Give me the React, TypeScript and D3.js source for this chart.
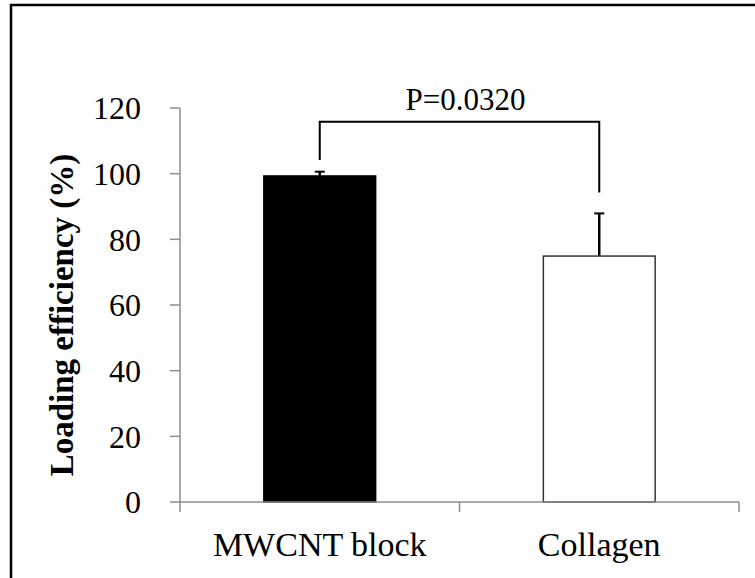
import React from 'react';
import * as d3 from 'd3';

// chart data
const categories = ['MWCNT block', 'Collagen'];
const means = [99.3, 74.9];
const errors = [1.3, 13.0];
const fills = ['#000000', '#ffffff'];
const yTicks = [0, 20, 40, 60, 80, 100, 120];
const pLabel = 'P=0.0320';
// bracket in data units: top, left end, right end
const bracketTop = 115.8;
const bracketEnds = [104.2, 94.3];

const W = 755;
const H = 578;
const FONT = "'Liberation Serif', 'Times New Roman', Tinos, 'DejaVu Serif', serif";

export default function App() {
  const x = d3.scaleBand<string>().domain(categories).range([180, 739]).padding(0);
  const y = d3.scaleLinear().domain([0, 120]).range([502, 108]);
  const barW = x.bandwidth() * 0.4;
  const cx = (c: string) => (x(c) as number) + x.bandwidth() / 2;

  const boundaries = [180, ...categories.map((c) => (x(c) as number) + x.bandwidth())];
  const axisColor = '#8c8c8c';
  const txt = { fontFamily: FONT };

  const bx0 = cx(categories[0]);
  const bx1 = cx(categories[1]);

  return (
    <svg width={W} height={H} style={{ position: 'absolute', left: 0, top: 0, fontFamily: FONT }}>
      <rect x={0} y={0} width={W} height={H} fill="#fff" />
      {/* frame */}
      <rect x={11} y={5} width={W + 20} height={H + 20} fill="none" stroke="#000" strokeWidth={2.5} />

      {/* y axis */}
      <line x1={180} x2={180} y1={y(120)} y2={y(0)} stroke={axisColor} strokeWidth={1.5} />
      {yTicks.map((t) => (
        <g key={t}>
          <line x1={170} x2={180} y1={y(t)} y2={y(t)} stroke={axisColor} strokeWidth={1.5} />
          <text x={141} y={y(t)} dy="0.35em" textAnchor="end" fontSize={32} fill="#000" style={txt}>
            {t}
          </text>
        </g>
      ))}

      {/* bars */}
      {categories.map((c, i) => (
        <g key={c}>
          <line x1={cx(c)} x2={cx(c)} y1={y(means[i])} y2={y(means[i] + errors[i])} stroke="#000" strokeWidth={2.5} />
          <line x1={cx(c) - 5} x2={cx(c) + 5} y1={y(means[i] + errors[i])} y2={y(means[i] + errors[i])} stroke="#000" strokeWidth={2} />
          <rect
            x={cx(c) - barW / 2}
            y={y(means[i])}
            width={barW}
            height={y(0) - y(means[i])}
            fill={fills[i]}
            stroke={i === 0 ? '#000' : '#333'}
            strokeWidth={1.5}
          />
          <text x={cx(c)} y={556} textAnchor="middle" fontSize={34} fill="#000" style={txt}>
            {c}
          </text>
        </g>
      ))}

      {/* x axis */}
      <line x1={180} x2={739} y1={y(0)} y2={y(0)} stroke={axisColor} strokeWidth={1.5} />
      {boundaries.map((b, i) => (
        <line key={i} x1={b} x2={b} y1={y(0)} y2={y(0) + 10} stroke={axisColor} strokeWidth={1.5} />
      ))}

      {/* significance bracket */}
      <path
        d={`M${bx0},${y(bracketEnds[0])}V${y(bracketTop)}H${bx1}V${y(bracketEnds[1])}`}
        fill="none"
        stroke="#000"
        strokeWidth={2}
      />
      <text x={(bx0 + bx1) / 2 + 6} y={110} textAnchor="middle" fontSize={31} fill="#000" style={txt}>
        {pLabel}
      </text>

      {/* y title */}
      <text
        transform="translate(73,315) rotate(-90)"
        textAnchor="middle"
        fontSize={33}
        fontWeight="bold"
        fill="#000"
        style={txt}
      >
        Loading efficiency (%)
      </text>
    </svg>
  );
}
